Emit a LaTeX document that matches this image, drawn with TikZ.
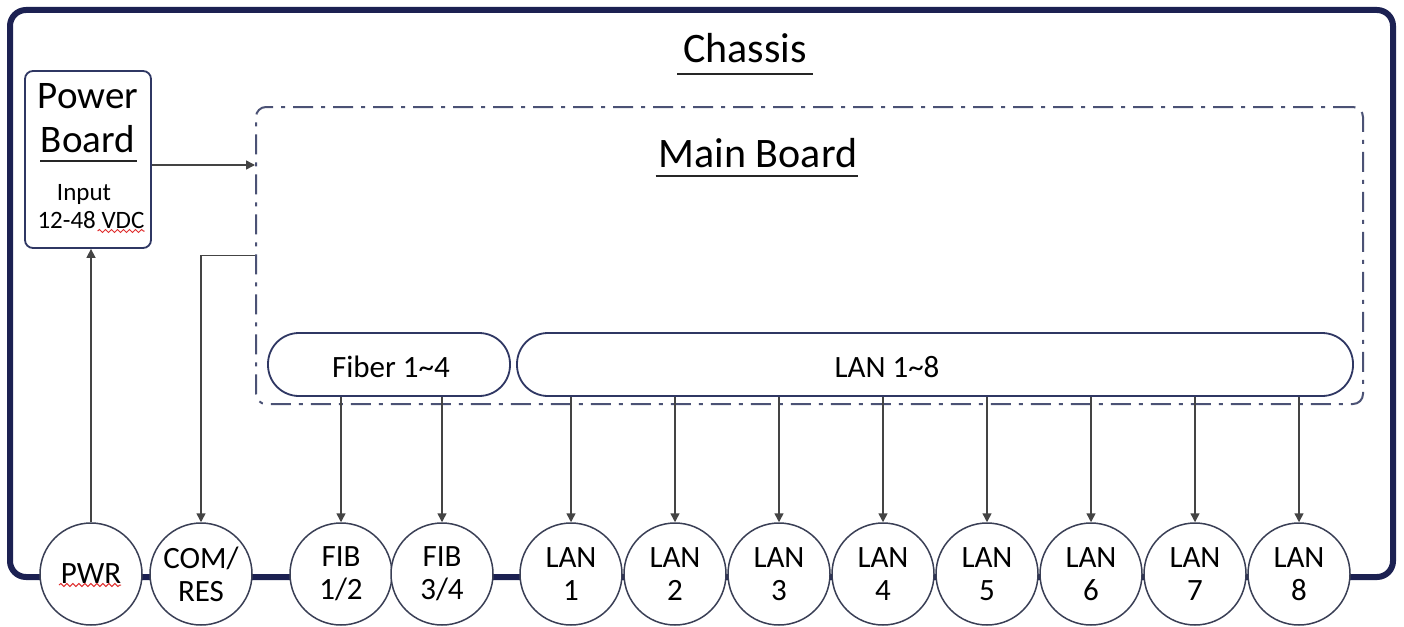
\documentclass[tikz,border=0pt]{standalone}
\usepackage{fontspec}
\setmainfont{Carlito}
\usetikzlibrary{arrows.meta,calc,decorations.pathmorphing}
\definecolor{navy}{HTML}{1C2152}
\definecolor{boardc}{HTML}{4B5275}
\definecolor{boxc}{HTML}{2F3763}
\definecolor{portc}{HTML}{3A3F55}
\definecolor{arrc}{HTML}{444444}
\definecolor{spellred}{HTML}{E03030}
\begin{document}
\begin{tikzpicture}[x=1pt,y=-1pt,
  chassisbox/.style={draw=navy, line width=6pt, rounded corners=16pt},
  mainbox/.style={draw=boardc, line width=2pt, rounded corners=10pt,
    dash pattern=on 20pt off 8pt on 4pt off 8pt, minimum width=1107pt, minimum height=297pt, inner sep=0pt},
  pbox/.style={draw=boxc, line width=1.8pt, rounded corners=8pt, fill=white,
    minimum width=126pt, minimum height=177pt, inner sep=0pt},
  stadium/.style={draw=boxc, line width=1.8pt, rounded corners=31pt, fill=white,
    minimum height=63pt, inner sep=0pt},
  port/.style={circle, draw=portc, line width=1.5pt, fill=white, minimum size=102pt,
    inner sep=0pt, align=center, font=\fontsize{31}{33}\selectfont},
  arr/.style={draw=arrc, line width=1.5pt, -{Triangle[length=9pt,width=9pt]}},
  uline/.style={line width=2pt, draw=black!85},
  wavy/.style={draw=spellred, line width=1pt, decorate,
    decoration={snake, amplitude=1.5pt, segment length=6pt}},
  bigtxt/.style={anchor=base, inner sep=0pt},
]
\useasboundingbox (0,0) rectangle (1404,626);
\fill[white] (0,0) rectangle (1404,626);

% chassis
\draw[chassisbox] (10,10) rectangle (1393,577);
\node[bigtxt, font=\fontsize{42}{50}\selectfont] (chtitle) at (745,63) {Chassis};
\draw[uline] ($(chtitle.base west)+(-6,11)$) -- ($(chtitle.base east)+(6,11)$);

% main board
\node[mainbox] (main) at (809.5,255.5) {};
\node[bigtxt, font=\fontsize{42}{50}\selectfont] (mbtitle) at (758,167) {Main Board};
\draw[uline, line width=2.6pt] ($(mbtitle.base west)+(-3,9)$) -- ($(mbtitle.base east)+(1,9)$);

% power board
\node[pbox] (power) at (88,159.5) {};
\node[bigtxt, font=\fontsize{39}{46}\selectfont] (pt1) at (88,108) {Power};
\node[bigtxt, font=\fontsize{39}{46}\selectfont] (pt2) at (88,152) {Board};
\draw[uline] ($(power.north west)+(16,91)$) -- ($(power.north east)+(-15,91)$);
\node[bigtxt, font=\fontsize{25}{30}\selectfont] (pin) at (84,200) {Input};
\node[bigtxt, font=\fontsize{25}{30}\selectfont] (pvdc) at (91,228) {12-48 VDC};
\draw[wavy] ($(pvdc.base east)+(-47,3)$) -- ($(pvdc.base east)+(0,3)$);

% stadium blocks
\node[stadium, minimum width=242pt] (fiber) at (389,364.5) {};
\node[bigtxt, font=\fontsize{31}{33}\selectfont] at (391,377) {Fiber 1\textasciitilde 4};
\node[stadium, minimum width=836pt] (lan) at (935,364.5) {};
\node[bigtxt, font=\fontsize{31}{33}\selectfont] at (887,377) {LAN 1\textasciitilde 8};

% ports
\node[port] (pwr) at (91,574) {PWR};
\draw[wavy] ($(pwr.center)+(-32,11)$) -- ($(pwr.center)+(30,11)$);
\node[port] (com) at (201,574) {COM/\\RES};
\node[port] (fib12) at (341,574) {FIB\\1/2};
\node[port] (fib34) at (442,574) {FIB\\3/4};
\foreach \i in {1,...,8} {
  \node[port] (lan\i) at ({571+104*(\i-1)},574) {LAN\\\i};
}

% connectors
\coordinate (pe) at ([yshift=-5.5pt]power.east);
\draw[arr] (pwr.north) -- (pwr |- power.south);
\draw[arr] (pe) -- (pe -| main.west);
\draw[arr] (main.west) -| (com.north);
\draw[arr] (fib12 |- fiber.south) -- (fib12.north);
\draw[arr] (fib34 |- fiber.south) -- (fib34.north);
\foreach \i in {1,...,8} {
  \draw[arr] (lan\i |- lan.south) -- (lan\i.north);
}
\end{tikzpicture}
\end{document}
